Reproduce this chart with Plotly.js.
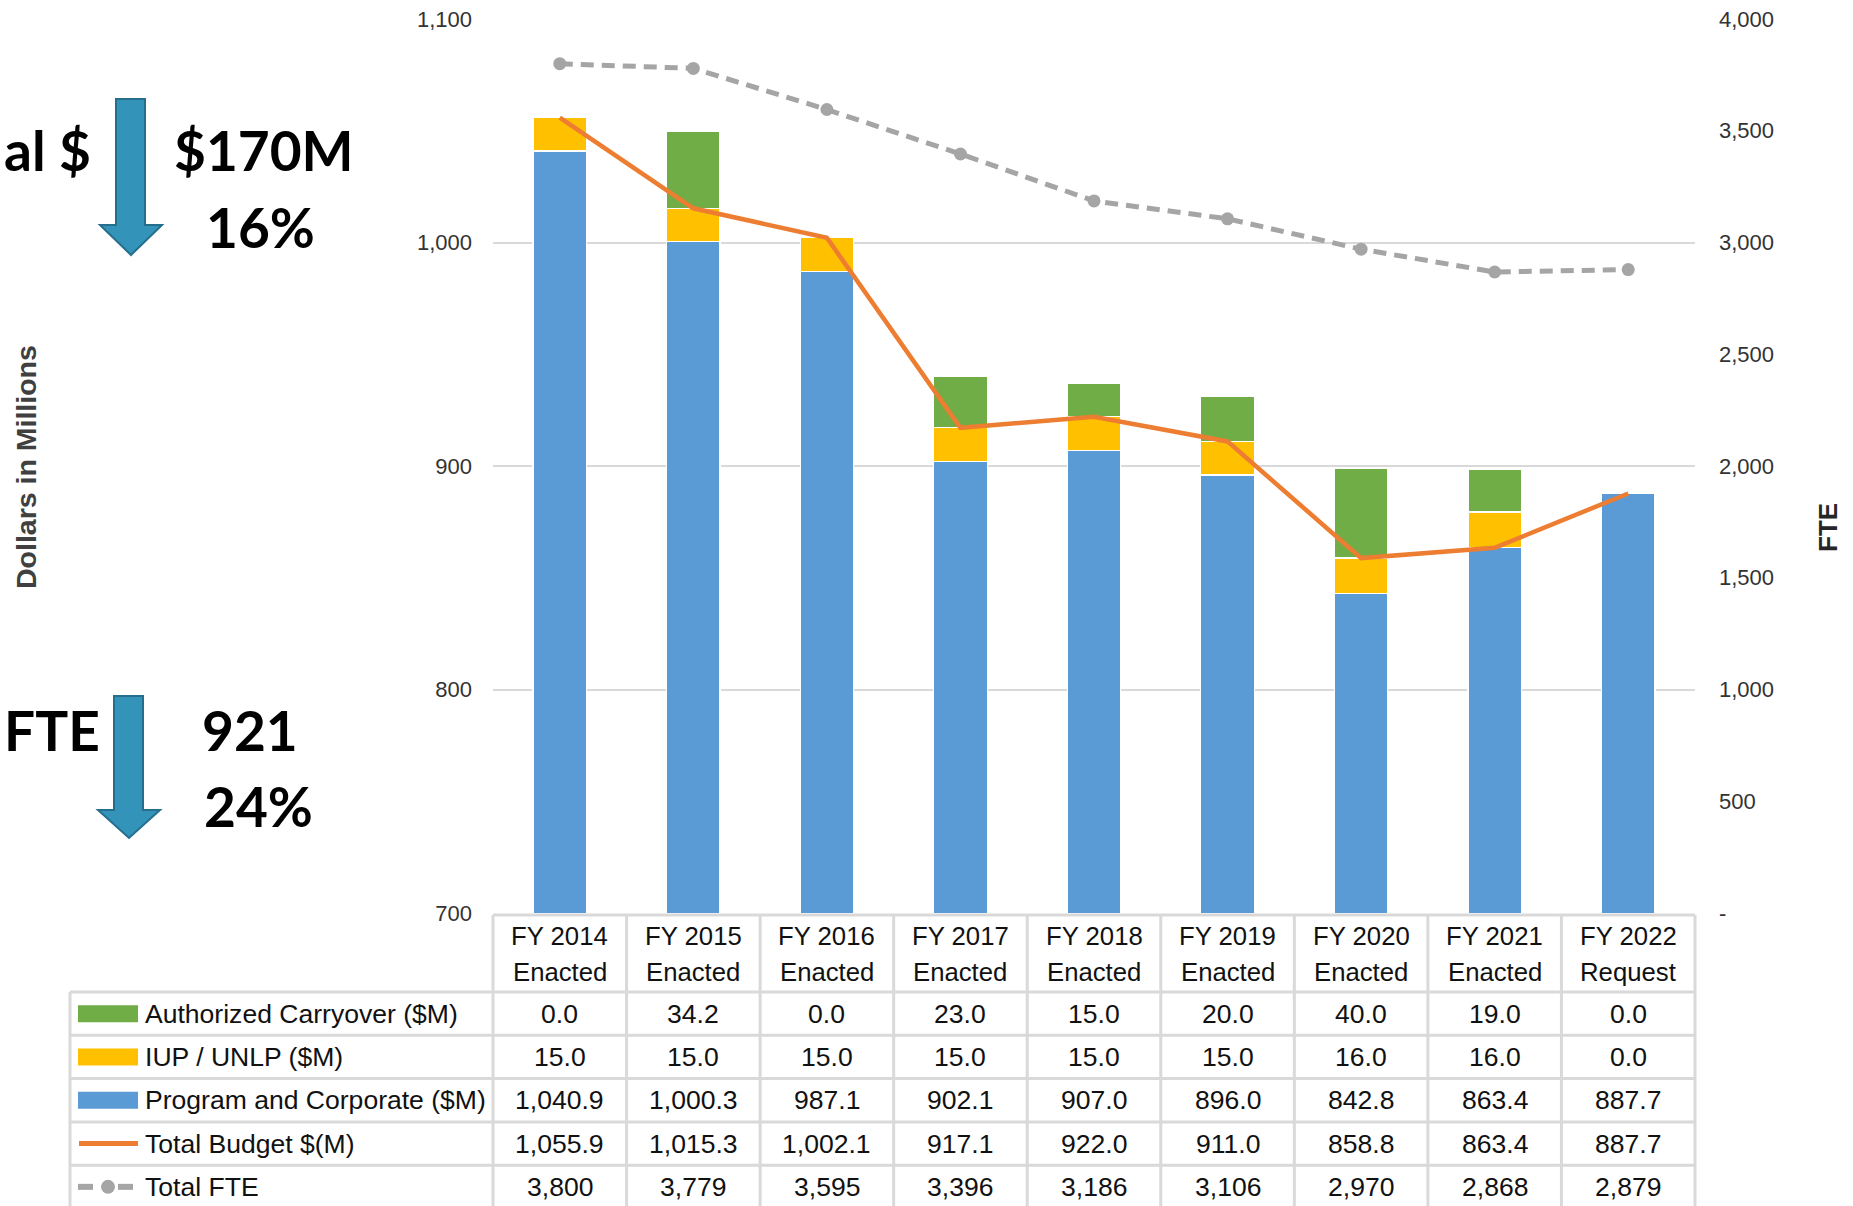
<!DOCTYPE html>
<html>
<head>
<meta charset="utf-8">
<script src="https://cdn.plot.ly/plotly-3.0.1.min.js"></script>
<style>
  html, body { margin: 0; padding: 0; background: #ffffff; }
  #chart { width: 1853px; height: 1206px; }
</style>
</head>
<body>
<div id="chart"></div>
<script>
// ---------------- DATA ----------------
const fiscalYears = ['FY 2014', 'FY 2015', 'FY 2016', 'FY 2017', 'FY 2018', 'FY 2019', 'FY 2020', 'FY 2021', 'FY 2022'];
const budgetStages = ['Enacted', 'Enacted', 'Enacted', 'Enacted', 'Enacted', 'Enacted', 'Enacted', 'Enacted', 'Request'];
const authorizedCarryover = [0.0, 34.2, 0.0, 23.0, 15.0, 20.0, 40.0, 19.0, 0.0];
const iupUnlp = [15.0, 15.0, 15.0, 15.0, 15.0, 15.0, 16.0, 16.0, 0.0];
const programCorporate = [1040.9, 1000.3, 987.1, 902.1, 907.0, 896.0, 842.8, 863.4, 887.7];
const totalBudget = [1055.9, 1015.3, 1002.1, 917.1, 922.0, 911.0, 858.8, 863.4, 887.7];
const totalFTE = [3800, 3779, 3595, 3396, 3186, 3106, 2970, 2868, 2879];
const seriesNames = ['Authorized Carryover ($M)', 'IUP / UNLP ($M)', 'Program and Corporate ($M)', 'Total Budget $(M)', 'Total FTE'];
const leftTickVals = [700, 800, 900, 1000, 1100];
const rightTickVals = [0, 500, 1000, 1500, 2000, 2500, 3000, 3500, 4000];
const rightTickText = ['-', '500', '1,000', '1,500', '2,000', '2,500', '3,000', '3,500', '4,000'];
const summaryLeft = ['al $', 'FTE'];
const summaryRight = [['$170M', '16%'], ['921', '24%']];
const leftTitle = 'Dollars in Millions';
const rightTitle = 'FTE';

// ---------------- STYLE ----------------
const C = { blue: '#5b9bd5', gold: '#ffc000', green: '#70ad47', orange: '#ed7d31', gray: '#a5a5a5',
            grid: '#d9d9d9', arrow: '#3393b9', arrowEdge: '#256f8d' };

function hasFont(name) {
  const ctx = document.createElement('canvas').getContext('2d');
  const t = 'Program and Corporate ($M) 1,040.9';
  ctx.font = '40px monospace';
  const a = ctx.measureText(t).width;
  ctx.font = '40px "' + name + '", monospace';
  const b = ctx.measureText(t).width;
  return Math.abs(a - b) > 1;
}
const narrow = hasFont('Liberation Sans Narrow');
const tFam = narrow ? '"Liberation Sans Narrow", "Arial Narrow", sans-serif' : '"Liberation Sans", Arial, sans-serif';
const k = narrow ? 1 : 0.83;
const FS = { cell: 32 * k, head: 31 * k, tick: 26 * k * 1.02 };
const bigFont = { family: 'Lato, "Noto Sans", sans-serif', size: 55, color: '#000000', weight: 700 };

// plot area in pixels
const W = 1853, H = 1206, PL = 493, PR = 1695, PT = 19, PB = 913;
const px2x = p => (p - PL) / (PR - PL);
const py2y = p => (PB - p) / (PB - PT);

// ---------------- TRACES ----------------
const barLine = { color: '#ffffff', width: 1.2 };
const traces = [
  { type: 'bar', name: seriesNames[2], x: fiscalYears, y: programCorporate, marker: { color: C.blue, line: barLine }, hoverinfo: 'skip' },
  { type: 'bar', name: seriesNames[1], x: fiscalYears, y: iupUnlp, marker: { color: C.gold, line: barLine }, hoverinfo: 'skip' },
  { type: 'bar', name: seriesNames[0], x: fiscalYears, y: authorizedCarryover, marker: { color: C.green, line: barLine }, hoverinfo: 'skip' },
  { type: 'scatter', mode: 'lines', name: seriesNames[3], x: fiscalYears, y: totalBudget,
    line: { color: C.orange, width: 4.5 }, hoverinfo: 'skip' },
  { type: 'scatter', mode: 'lines+markers', name: seriesNames[4], x: fiscalYears, y: totalFTE, yaxis: 'y2',
    line: { color: C.gray, width: 5, dash: '13px,8px' }, marker: { color: C.gray, size: 13, symbol: 'circle' }, hoverinfo: 'skip' }
];

// ---------------- TABLE ----------------
const shapes = [];
const annotations = [];
const lineStyle = { color: C.grid, width: 3 };
const nCol = fiscalYears.length;
const tableLeft = 70, headTop = 915, rowTop = 992, rowH = 43.3;
const rowCenters = [0, 1, 2, 3, 4].map(i => rowTop + rowH * (i + 0.5));
// horizontal lines
shapes.push({ type: 'line', xref: 'paper', yref: 'paper', x0: 0, x1: 1, y0: py2y(headTop), y1: py2y(headTop), line: lineStyle });
for (let i = 0; i <= 5; i++) {
  const yy = py2y(rowTop + rowH * i);
  shapes.push({ type: 'line', xref: 'paper', yref: 'paper', x0: px2x(tableLeft), x1: 1, y0: yy, y1: yy, line: lineStyle });
}
// vertical lines
shapes.push({ type: 'line', xref: 'paper', yref: 'paper', x0: px2x(tableLeft), x1: px2x(tableLeft), y0: py2y(rowTop), y1: py2y(H + 5), line: lineStyle });
for (let c = 0; c <= nCol; c++) {
  shapes.push({ type: 'line', xref: 'paper', yref: 'paper', x0: c / nCol, x1: c / nCol, y0: py2y(headTop), y1: py2y(H + 5), line: lineStyle });
}
// header
fiscalYears.forEach((fy, i) => {
  annotations.push({ x: fy, xref: 'x', y: py2y(936), yref: 'paper', text: fy, showarrow: false, xanchor: 'center', yanchor: 'middle',
    font: { family: tFam, size: FS.head, color: '#111111' } });
  annotations.push({ x: fy, xref: 'x', y: py2y(972), yref: 'paper', text: budgetStages[i], showarrow: false, xanchor: 'center', yanchor: 'middle',
    font: { family: tFam, size: FS.head, color: '#111111' } });
});
const fmt1 = v => v.toLocaleString('en-US', { minimumFractionDigits: 1, maximumFractionDigits: 1 });
const fmt0 = v => v.toLocaleString('en-US', { maximumFractionDigits: 0 });
const rows = [
  { name: seriesNames[0], vals: authorizedCarryover.map(fmt1) },
  { name: seriesNames[1], vals: iupUnlp.map(fmt1) },
  { name: seriesNames[2], vals: programCorporate.map(fmt1) },
  { name: seriesNames[3], vals: totalBudget.map(fmt1) },
  { name: seriesNames[4], vals: totalFTE.map(fmt0) }
];
rows.forEach((r, ri) => {
  const yc = rowCenters[ri];
  annotations.push({ x: px2x(143), xref: 'paper', y: py2y(yc), yref: 'paper', text: r.name, showarrow: false,
    xanchor: 'left', yanchor: 'middle', font: { family: tFam, size: FS.cell, color: '#111111' } });
  r.vals.forEach((v, ci) => {
    annotations.push({ x: fiscalYears[ci], xref: 'x', y: py2y(yc), yref: 'paper', text: v, showarrow: false,
      xanchor: 'center', yanchor: 'middle', font: { family: tFam, size: FS.cell, color: '#111111' } });
  });
});
// legend swatches
const swRect = (ri, color) => shapes.push({ type: 'rect', xref: 'paper', yref: 'paper', x0: px2x(78), x1: px2x(138),
  y0: py2y(rowCenters[ri] - 8.5), y1: py2y(rowCenters[ri] + 8.5), fillcolor: color, line: { width: 0 } });
swRect(0, C.green); swRect(1, C.gold); swRect(2, C.blue);
shapes.push({ type: 'line', xref: 'paper', yref: 'paper', x0: px2x(79), x1: px2x(138), y0: py2y(rowCenters[3]), y1: py2y(rowCenters[3]),
  line: { color: C.orange, width: 5 } });
shapes.push({ type: 'line', xref: 'paper', yref: 'paper', x0: px2x(78), x1: px2x(93), y0: py2y(rowCenters[4]), y1: py2y(rowCenters[4]),
  line: { color: C.gray, width: 6 } });
shapes.push({ type: 'line', xref: 'paper', yref: 'paper', x0: px2x(118), x1: px2x(133), y0: py2y(rowCenters[4]), y1: py2y(rowCenters[4]),
  line: { color: C.gray, width: 6 } });
shapes.push({ type: 'circle', xref: 'paper', yref: 'paper', x0: px2x(101), x1: px2x(115), y0: py2y(rowCenters[4] - 7), y1: py2y(rowCenters[4] + 7),
  fillcolor: C.gray, line: { width: 0 } });

// ---------------- LEFT SUMMARY ----------------
function arrowPath(xL, xR, sL, sR, top, headTop, tip) {
  const xm = (xL + xR) / 2;
  const pts = [[sL, top], [sR, top], [sR, headTop], [xR, headTop], [xm, tip], [xL, headTop], [sL, headTop]];
  return 'M ' + pts.map(p => px2x(p[0]) + ',' + py2y(p[1])).join(' L ') + ' Z';
}
shapes.push({ type: 'path', xref: 'paper', yref: 'paper', path: arrowPath(100, 162, 116, 145, 99, 225, 255),
  fillcolor: C.arrow, line: { color: C.arrowEdge, width: 2 } });
shapes.push({ type: 'path', xref: 'paper', yref: 'paper', path: arrowPath(98, 160, 114, 143, 696, 810, 838),
  fillcolor: C.arrow, line: { color: C.arrowEdge, width: 2 } });
annotations.push({ x: px2x(2), xref: 'paper', y: py2y(150), yref: 'paper', text: summaryLeft[0], showarrow: false, xanchor: 'left', yanchor: 'middle', font: bigFont });
annotations.push({ x: px2x(264), xref: 'paper', y: py2y(150), yref: 'paper', text: summaryRight[0][0], showarrow: false, xanchor: 'center', yanchor: 'middle', font: bigFont });
annotations.push({ x: px2x(260), xref: 'paper', y: py2y(227), yref: 'paper', text: summaryRight[0][1], showarrow: false, xanchor: 'center', yanchor: 'middle', font: bigFont });
annotations.push({ x: px2x(2), xref: 'paper', y: py2y(730), yref: 'paper', text: summaryLeft[1], showarrow: false, xanchor: 'left', yanchor: 'middle', font: bigFont });
annotations.push({ x: px2x(250), xref: 'paper', y: py2y(730), yref: 'paper', text: summaryRight[1][0], showarrow: false, xanchor: 'center', yanchor: 'middle', font: bigFont });
annotations.push({ x: px2x(258), xref: 'paper', y: py2y(806), yref: 'paper', text: summaryRight[1][1], showarrow: false, xanchor: 'center', yanchor: 'middle', font: bigFont });

// axis titles
annotations.push({ x: px2x(26), xref: 'paper', y: py2y(467), yref: 'paper', text: leftTitle, textangle: -90, showarrow: false,
  xanchor: 'center', yanchor: 'middle', font: { family: '"Liberation Sans", Arial, sans-serif', size: 28.5, color: '#404040', weight: 700 } });
annotations.push({ x: px2x(1828), xref: 'paper', y: py2y(527), yref: 'paper', text: rightTitle, textangle: -90, showarrow: false,
  xanchor: 'center', yanchor: 'middle', font: { family: '"Liberation Sans", Arial, sans-serif', size: 26, color: '#262626', weight: 700 } });

// ---------------- LAYOUT ----------------
const tickFont = { family: tFam, size: FS.tick, color: '#333333' };
const layout = {
  width: W, height: H,
  margin: { l: PL, r: W - PR, t: PT, b: H - PB, pad: 0 },
  paper_bgcolor: '#ffffff', plot_bgcolor: '#ffffff',
  barmode: 'stack', bargap: 0.6, showlegend: false,
  xaxis: { type: 'category', range: [-0.5, nCol - 0.5], showticklabels: false, showgrid: false, zeroline: false, showline: false, ticks: '' },
  yaxis: { range: [700, 1100], tickvals: leftTickVals, tickformat: ',', showgrid: true, gridcolor: C.grid, gridwidth: 2,
           zeroline: false, showline: false, ticks: '', ticklabelstandoff: 20, tickfont: tickFont },
  yaxis2: { overlaying: 'y', side: 'right', range: [0, 4000], tickvals: rightTickVals, ticktext: rightTickText, showgrid: false,
            zeroline: false, showline: false, ticks: '', ticklabelstandoff: 23, tickfont: tickFont },
  shapes: shapes,
  annotations: annotations
};

Plotly.newPlot('chart', traces, layout, { staticPlot: true, displayModeBar: false });
</script>
</body>
</html>
